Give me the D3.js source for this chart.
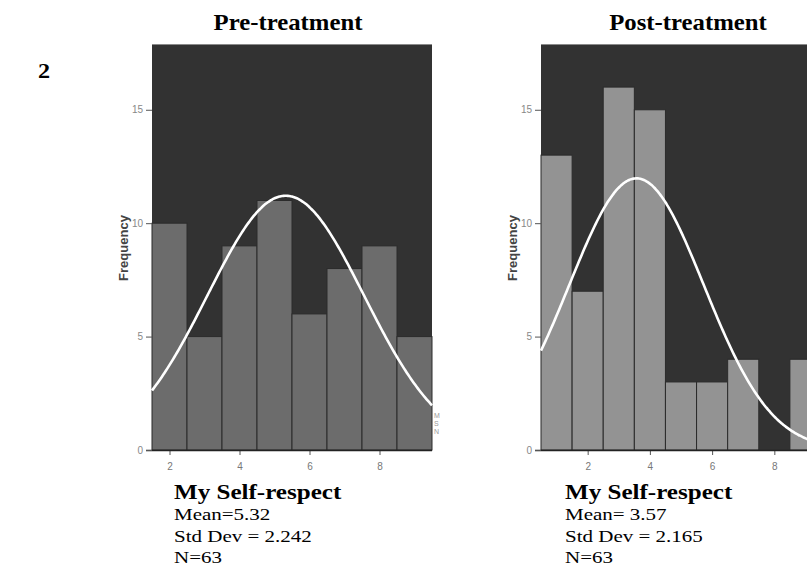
<!DOCTYPE html>
<html>
<head>
<meta charset="utf-8">
<script src="https://cdn.jsdelivr.net/npm/d3@7"></script>
<style>
  body { margin: 0; background: #fff; }
  svg { display: block; }
</style>
</head>
<body>
<div id="chart"></div>
<script>
// Width and height
var w = 807;
var h = 578;

// Histogram bins (bin centres) and counts
var preBins = [2, 3, 4, 5, 6, 7, 8, 9];
var preCounts = [10, 5, 9, 11, 6, 8, 9, 5];
var postBins = [1, 2, 3, 4, 5, 6, 7, 8, 9];
var postCounts = [13, 7, 16, 15, 3, 3, 4, 0, 4];

// Stats printed under each panel
var preStats = { mean: 5.32, sd: 2.242, n: 63 };
var postStats = { mean: 3.57, sd: 2.165, n: 63 };
var preLabels = ["Mean=5.32", "Std Dev = 2.242", "N=63"];
var postLabels = ["Mean= 3.57", "Std Dev = 2.165", "N=63"];

var xTicks = [2, 4, 6, 8];
var yTicks = [0, 5, 10, 15];

var svg = d3.select("#chart")
  .append("svg")
  .attr("width", w)
  .attr("height", h);

var serif = "'Liberation Serif', 'Times New Roman', serif";
var sans = "'Liberation Sans', Arial, sans-serif";

// Figure number
svg.append("text")
  .attr("transform", "translate(38,78) scale(1.1,1)")
  .style("font-family", serif)
  .style("font-weight", "bold")
  .style("font-size", "22px")
  .text("2");

function panel(opts) {
  var x = d3.scaleLinear().domain(opts.xDomain).range([opts.left, opts.right]);
  var y = d3.scaleLinear().domain([0, 17.9]).range([450, 44]);

  var g = svg.append("g");

  // title (the scan is a little stretched sideways)
  svg.append("text")
    .attr("transform", "translate(" + opts.titleX + ",30) scale(1.1,1)")
    .attr("text-anchor", "middle")
    .style("font-family", serif)
    .style("font-weight", "bold")
    .style("font-size", "22.5px")
    .text(opts.title);

  // dark background
  g.append("rect")
    .attr("x", opts.left)
    .attr("y", y(17.9))
    .attr("width", opts.right - opts.left)
    .attr("height", y(0) - y(17.9))
    .style("fill", "#323232");
  g.append("line")
    .attr("x1", opts.left).attr("x2", opts.right)
    .attr("y1", y(17.9) + 0.5).attr("y2", y(17.9) + 0.5)
    .style("stroke", "#8a8a8a")
    .style("stroke-width", 1);

  // bars
  g.selectAll("rect.bar")
    .data(opts.bins)
    .enter()
    .append("rect")
    .attr("class", "bar")
    .attr("x", function(d) { return x(d - 0.5); })
    .attr("y", function(d, i) { return y(opts.counts[i]); })
    .attr("width", function(d) { return x(d + 0.5) - x(d - 0.5); })
    .attr("height", function(d, i) { return y(0) - y(opts.counts[i]); })
    .style("fill", opts.barColor)
    .style("stroke", "#2b2b2b")
    .style("stroke-width", 1);

  // normal curve scaled to counts (bin width 1)
  var total = d3.sum(opts.counts);
  var m = opts.stats.mean, s = opts.stats.sd;
  var pts = d3.range(0, 201).map(function(i) {
    var xv = opts.xDomain[0] + (opts.xDomain[1] - opts.xDomain[0]) * i / 200;
    var yv = total / (s * Math.sqrt(2 * Math.PI)) * Math.exp(-0.5 * Math.pow((xv - m) / s, 2));
    return [xv, yv];
  });
  var line = d3.line()
    .x(function(d) { return x(d[0]); })
    .y(function(d) { return y(d[1]); })
    .curve(d3.curveBasis);
  g.append("path")
    .datum(pts)
    .attr("d", line)
    .style("fill", "none")
    .style("stroke", "#ffffff")
    .style("stroke-width", 2.6);

  // x axis
  var xAxis = d3.axisBottom(x)
    .tickValues(xTicks)
    .tickSize(5)
    .tickPadding(8);
  var gx = svg.append("g")
    .attr("transform", "translate(0," + y(0) + ")")
    .call(xAxis);
  gx.select(".domain").remove();
  gx.append("line")
    .attr("x1", opts.left - 6).attr("x2", opts.right)
    .attr("y1", 0.5).attr("y2", 0.5)
    .style("stroke", "#222")
    .style("stroke-width", 1.5);
  gx.selectAll(".tick line").style("stroke", "#555");
  gx.selectAll(".tick text")
    .style("font-family", sans)
    .style("font-size", "10px")
    .style("fill", "#777");

  // y axis
  var yAxis = d3.axisLeft(y)
    .tickValues(yTicks)
    .tickSize(6)
    .tickPadding(3);
  var gy = svg.append("g")
    .attr("transform", "translate(" + opts.left + ",0)")
    .call(yAxis);
  gy.select(".domain").remove();
  gy.selectAll(".tick line").style("stroke", "#555");
  gy.selectAll(".tick text")
    .style("font-family", sans)
    .style("font-size", "10px")
    .style("fill", "#888");

  // y axis title
  svg.append("text")
    .attr("transform", "translate(" + (opts.left - 24) + ",248) rotate(-90)")
    .attr("text-anchor", "middle")
    .style("font-family", sans)
    .style("font-weight", "bold")
    .style("font-size", "13px")
    .style("fill", "#444")
    .text("Frequency");

  // caption under the panel
  svg.append("text")
    .attr("transform", "translate(" + opts.capX + ",499) scale(1.14,1)")
    .style("font-family", serif)
    .style("font-weight", "bold")
    .style("font-size", "22px")
    .text("My Self-respect");
  svg.selectAll(null)
    .data(opts.labels)
    .enter()
    .append("text")
    .attr("transform", function(d, i) {
      return "translate(" + opts.capX + "," + (520 + i * 21.5) + ") scale(1.2,1)";
    })
    .style("font-family", serif)
    .style("font-size", "17.5px")
    .text(function(d) { return d; });
}

panel({
  title: "Pre-treatment", titleX: 288,
  left: 152, right: 432, xDomain: [1.5, 9.5],
  bins: preBins, counts: preCounts, stats: preStats,
  barColor: "#6c6c6c", capX: 174, labels: preLabels
});

panel({
  title: "Post-treatment", titleX: 688,
  left: 541, right: 821, xDomain: [0.5, 9.5],
  bins: postBins, counts: postCounts, stats: postStats,
  barColor: "#939393", capX: 565, labels: postLabels
});

// cut-off legend letters at the right edge of the first panel
svg.append("g")
  .selectAll("text")
  .data(["M", "S", "N"])
  .enter()
  .append("text")
  .attr("x", 434)
  .attr("y", function(d, i) { return 418 + i * 8; })
  .style("font-family", sans)
  .style("font-size", "7px")
  .style("fill", "#999")
  .text(function(d) { return d; });
</script>
</body>
</html>
